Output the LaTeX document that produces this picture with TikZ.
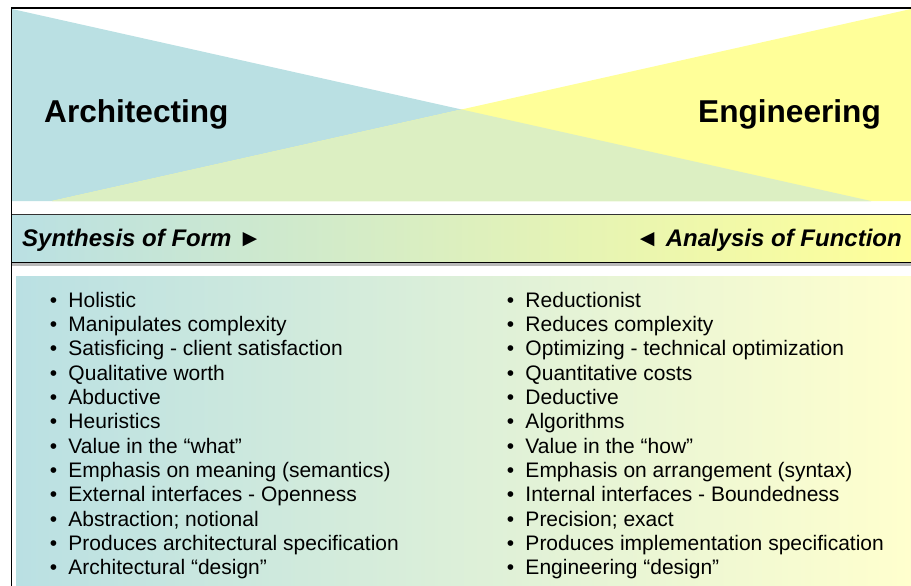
\documentclass[tikz,border=0pt]{standalone}
\usepackage{fontspec}
\setmainfont{Liberation Sans}
\usepackage{tikz}

\definecolor{archblue}{RGB}{186,224,227}
\definecolor{engyellow}{RGB}{255,255,153}
\definecolor{mixgreen}{RGB}{220,239,194}
\definecolor{cream}{RGB}{255,255,206}

\begin{document}
\begin{tikzpicture}[x=1pt, y=-1pt,
        title/.style={font=\fontsize{31.6}{38}\selectfont\bfseries, inner sep=0pt},
        bandtext/.style={font=\fontsize{24}{29}\selectfont\bfseries\itshape, inner sep=0pt},
        item/.style={font=\fontsize{21}{25}\selectfont, inner sep=0pt, anchor=base west}]
                \useasboundingbox (0, 0) rectangle (911, 586);
                % the two crossing wedges
                \fill[archblue] (12, 9) -- (12, 201) -- (871, 201) -- cycle;
                \fill[engyellow] (911, 9) -- (911, 201) -- (52, 201) -- cycle;
                \fill[mixgreen] (52, 201) -- (871, 201) -- (intersection of 12,9--871,201 and 911,9--52,201) -- cycle;
                \node[title, anchor=base west] (arch) at (44, 122){Architecting};
                \node[title, anchor=base east] (eng) at (881, 122){Engineering};
                % band
                \shade[left color=archblue, right color=engyellow] (12, 214) rectangle (911, 262);
                \fill[gray!55] (12, 262) rectangle (911, 265.5);
                \draw[gray!40!black, thick] (12, 214) -- (911, 214);
                \draw[black, thick] (12, 262) -- (911, 262);
                \node[bandtext, anchor=base west] (synth) at (22, 246){Synthesis of Form {\upshape ►}};
                \node[bandtext, anchor=base east] (anal) at (902, 246){{\upshape ◄} Analysis of Function};
                % lists
                \shade[left color=archblue, right color=cream] (16, 276) rectangle (911, 586);
                \foreach \txt [count=\i] in {Holistic, Manipulates complexity, Satisficing - client satisfaction,
                        Qualitative worth, Abductive, Heuristics, Value in the “what”,
                        Emphasis on meaning (semantics), External interfaces - Openness,
                        Abstraction; notional, Produces architectural specification, Architectural “design”}
                        \node[item] (a\i) at (49.6, {307 + 24.36*(\i - 1)}){\makebox[18.7pt][l]{•}\txt};
                \foreach \txt [count=\i] in {Reductionist, Reduces complexity, Optimizing - technical optimization,
                        Quantitative costs, Deductive, Algorithms, Value in the “how”,
                        Emphasis on arrangement (syntax), Internal interfaces - Boundedness,
                        Precision; exact, Produces implementation specification, Engineering “design”}
                        \node[item] (e\i) at (506.6, {307 + 24.36*(\i - 1)}){\makebox[18.7pt][l]{•}\txt};
                % frame
                \draw[black, line width=1.8pt] (911, 7.8) -- (11.5, 7.8) -- (11.5, 586);
        \end{tikzpicture}
\end{document}
